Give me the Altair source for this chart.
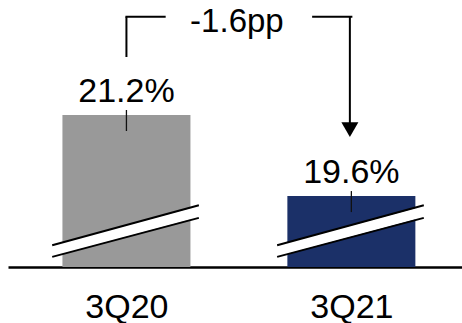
import json
import altair as alt
import pandas as pd

# ---- data ----
categories = ["3Q20", "3Q21"]
values = [21.2, 19.6]
value_labels = ["21.2%", "19.6%"]
change_label = "-1.6pp"
bar_colors = ["#999999", "#1b3068"]

# ---- scale set-up (broken value axis) ----
Y_BASE = 18.2      # value at the (broken) baseline
Y_TOP = 23.47      # value at the top of the plot
X_MIN, X_MAX = -0.5043, 1.4696
BRACKET_LEVEL = 23.14
BRACKET_GAP = 0.33          # half-gap around the change label (x units)
BREAK_X = (-0.33, 0.322)    # break symbol extent around each bar centre
BREAK_UPPER = (18.63, 19.42)
BREAK_LOWER = (18.40, 19.17)
BREAK_MID = (18.515, 19.295)

FONT = "Liberation Sans"
pos = list(range(len(categories)))

df = pd.DataFrame({"cat": categories, "pos": pos, "value": values,
                   "label": value_labels, "color": bar_colors})

xs = alt.Scale(domain=[X_MIN, X_MAX], nice=False, zero=False)
ys = alt.Scale(domain=[Y_BASE, Y_TOP], nice=False, zero=False)

x_axis = alt.Axis(values=pos, labelExpr=f"{json.dumps(categories)}[datum.value]",
                  ticks=False, grid=False, domainColor="black", domainWidth=2.5,
                  labelFontSize=34, labelColor="black", labelFont=FONT,
                  labelPadding=23, title=None, labelFlush=False)

bars = alt.Chart(df).mark_bar(size=128).encode(
    x=alt.X("pos:Q", scale=xs, axis=x_axis),
    y=alt.Y("value:Q", scale=ys, axis=None),
    y2=alt.Y2Datum(Y_BASE),
    color=alt.Color("color:N", scale=None),
)

# break symbols
brk = pd.DataFrame({
    "x1": [p + BREAK_X[0] for p in pos],
    "x2": [p + BREAK_X[1] for p in pos],
})
brk["um1"], brk["um2"] = BREAK_MID
brk["uu1"], brk["uu2"] = BREAK_UPPER
brk["ul1"], brk["ul2"] = BREAK_LOWER

def brk_rule(a, b, color, width):
    return alt.Chart(brk).mark_rule(color=color, strokeWidth=width, strokeCap="butt").encode(
        x=alt.X("x1:Q", scale=xs), x2="x2:Q",
        y=alt.Y(f"{a}:Q", scale=ys), y2=f"{b}:Q")

break_white = brk_rule("um1", "um2", "white", 11)
break_up = brk_rule("uu1", "uu2", "black", 2)
break_lo = brk_rule("ul1", "ul2", "black", 2)

# value labels with small leader ticks
labels = alt.Chart(df).mark_text(fontSize=34, font=FONT, color="black",
                                  baseline="alphabetic", dy=-13).encode(
    x=alt.X("pos:Q", scale=xs), y=alt.Y("value:Q", scale=ys), text="label:N")
ticks = alt.Chart(df).mark_rule(color="#111111", strokeWidth=1.3, yOffset=-5, y2Offset=16).encode(
    x=alt.X("pos:Q", scale=xs), y=alt.Y("value:Q", scale=ys), y2="value:Q")

# bracket with change annotation
first, last = df.iloc[0], df.iloc[-1]
mid = (first["pos"] + last["pos"]) / 2
legs = pd.DataFrame({"pos": [first["pos"], last["pos"]],
                     "value": [first["value"], last["value"]],
                     "top": [BRACKET_LEVEL, BRACKET_LEVEL]})
left_leg = alt.Chart(legs.iloc[[0]]).mark_rule(color="black", strokeWidth=2, yOffset=-58).encode(
    x=alt.X("pos:Q", scale=xs), y=alt.Y("value:Q", scale=ys), y2="top:Q")
right_leg = alt.Chart(legs.iloc[[1]]).mark_rule(color="black", strokeWidth=2, yOffset=-70, xOffset=-1.5).encode(
    x=alt.X("pos:Q", scale=xs), y=alt.Y("value:Q", scale=ys), y2="top:Q")
arrow = alt.Chart(legs.iloc[[1]]).mark_point(shape="triangle-down", filled=True, size=289,
                                             color="black", opacity=1, yOffset=-66.5, xOffset=-1.5).encode(
    x=alt.X("pos:Q", scale=xs), y=alt.Y("value:Q", scale=ys))
hseg = pd.DataFrame({"x1": [first["pos"], mid + BRACKET_GAP],
                     "x2": [mid - BRACKET_GAP, last["pos"]],
                     "y": [BRACKET_LEVEL, BRACKET_LEVEL]})
horiz = alt.Chart(hseg).mark_rule(color="black", strokeWidth=2, strokeCap="square").encode(
    x=alt.X("x1:Q", scale=xs), x2="x2:Q", y=alt.Y("y:Q", scale=ys))
change = alt.Chart(pd.DataFrame({"pos": [mid], "y": [BRACKET_LEVEL], "t": [change_label]})).mark_text(
    fontSize=33, font=FONT, color="black", baseline="alphabetic", dy=15, dx=-2).encode(
    x=alt.X("pos:Q", scale=xs), y=alt.Y("y:Q", scale=ys), text="t:N")

chart = alt.layer(bars, break_white, break_up, break_lo, ticks, labels,
                  left_leg, right_leg, arrow, horiz, change).properties(
    width=454, height=267,
    padding={"left": 8, "top": 0, "right": 0, "bottom": 0},
    background="white",
).configure_view(stroke=None)

chart.save("out.html", embed_options={"renderer": "svg", "actions": False})
